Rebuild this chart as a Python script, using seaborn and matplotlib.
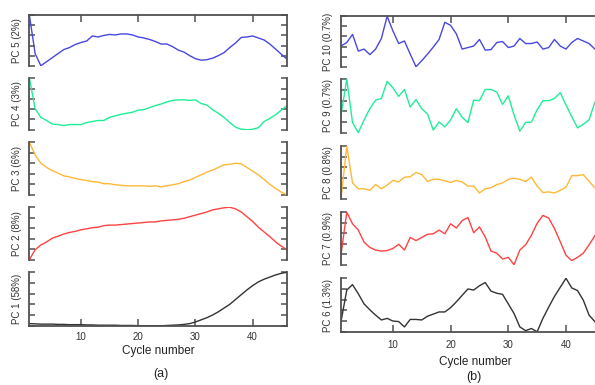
import numpy as np
import matplotlib
matplotlib.use('Agg')
import matplotlib.pyplot as plt
import seaborn as sns

sns.set_style('ticks')
plt.rcParams['font.family'] = ['Liberation Sans', 'DejaVu Sans']

cycles = np.arange(1, 47)

# panel (a) - normalised scores, PC1..PC5
pc1 = [0.04, 0.035, 0.03, 0.03, 0.03, 0.025, 0.025, 0.02, 0.02, 0.02,
       0.015, 0.015, 0.01, 0.01, 0.01, 0.01, 0.005, 0.005, 0.005, 0.0,
       0.0, 0.0, 0.0, 0.0, 0.005, 0.01, 0.015, 0.025, 0.04, 0.07,
       0.11, 0.15, 0.20, 0.26, 0.33, 0.40, 0.49, 0.58, 0.67, 0.75,
       0.82, 0.87, 0.91, 0.95, 0.98, 1.0]
pc2 = [0.0, 0.19, 0.28, 0.34, 0.41, 0.45, 0.49, 0.52, 0.54, 0.57,
       0.59, 0.61, 0.62, 0.65, 0.66, 0.66, 0.67, 0.68, 0.69, 0.70,
       0.71, 0.72, 0.72, 0.74, 0.75, 0.76, 0.77, 0.79, 0.82, 0.85,
       0.88, 0.91, 0.95, 0.97, 0.99, 1.0, 0.97, 0.91, 0.82, 0.73,
       0.62, 0.53, 0.44, 0.34, 0.26, 0.19]
pc3 = [1.0, 0.76, 0.60, 0.52, 0.46, 0.41, 0.36, 0.34, 0.31, 0.29,
       0.27, 0.25, 0.24, 0.21, 0.21, 0.19, 0.18, 0.17, 0.17, 0.17,
       0.17, 0.16, 0.17, 0.15, 0.17, 0.19, 0.21, 0.25, 0.28, 0.33,
       0.38, 0.43, 0.47, 0.52, 0.57, 0.58, 0.60, 0.59, 0.52, 0.45,
       0.38, 0.29, 0.20, 0.12, 0.05, 0.0]
pc4 = [1.0, 0.41, 0.24, 0.18, 0.11, 0.10, 0.08, 0.10, 0.10, 0.10,
       0.14, 0.16, 0.18, 0.18, 0.24, 0.27, 0.30, 0.32, 0.34, 0.38,
       0.39, 0.43, 0.47, 0.50, 0.54, 0.57, 0.58, 0.58, 0.57, 0.58,
       0.51, 0.48, 0.39, 0.32, 0.24, 0.14, 0.05, 0.01, 0.0, 0.01,
       0.04, 0.16, 0.22, 0.29, 0.38, 0.47]
pc5 = [1.0, 0.24, 0.0, 0.08, 0.16, 0.24, 0.32, 0.36, 0.42, 0.46,
       0.49, 0.59, 0.57, 0.60, 0.62, 0.61, 0.63, 0.63, 0.61, 0.57,
       0.55, 0.52, 0.48, 0.43, 0.43, 0.38, 0.31, 0.27, 0.20, 0.14,
       0.11, 0.12, 0.15, 0.20, 0.26, 0.36, 0.45, 0.56, 0.57, 0.59,
       0.55, 0.51, 0.43, 0.33, 0.23, 0.13]

# panel (b) - PC6..PC10
pc6 = [0.19, 0.78, 0.88, 0.71, 0.52, 0.41, 0.31, 0.22, 0.25, 0.20,
       0.19, 0.09, 0.23, 0.23, 0.22, 0.29, 0.33, 0.37, 0.37, 0.45,
       0.56, 0.68, 0.80, 0.78, 0.86, 0.92, 0.76, 0.72, 0.70, 0.52,
       0.34, 0.09, 0.02, 0.06, 0.0, 0.25, 0.46, 0.66, 0.83, 1.0,
       0.82, 0.77, 0.59, 0.31, 0.19, 0.12]
pc7 = [0.19, 1.0, 0.78, 0.66, 0.43, 0.33, 0.28, 0.26, 0.27, 0.31,
       0.39, 0.28, 0.52, 0.46, 0.52, 0.58, 0.59, 0.66, 0.59, 0.78,
       0.70, 0.84, 0.90, 0.61, 0.72, 0.53, 0.26, 0.22, 0.11, 0.14,
       0.0, 0.28, 0.38, 0.56, 0.79, 0.94, 0.89, 0.69, 0.44, 0.18,
       0.08, 0.14, 0.22, 0.38, 0.55, 0.70]
pc8 = [0.0, 1.0, 0.30, 0.19, 0.19, 0.16, 0.27, 0.19, 0.26, 0.35,
       0.32, 0.41, 0.42, 0.50, 0.46, 0.33, 0.37, 0.37, 0.34, 0.31,
       0.35, 0.32, 0.24, 0.24, 0.11, 0.19, 0.21, 0.27, 0.30, 0.37,
       0.39, 0.37, 0.33, 0.41, 0.24, 0.12, 0.13, 0.11, 0.16, 0.22,
       0.44, 0.44, 0.46, 0.33, 0.21, 0.15]
pc9 = [0.33, 1.0, 0.19, 0.0, 0.24, 0.45, 0.61, 0.64, 0.96, 0.84,
       0.68, 0.81, 0.48, 0.62, 0.45, 0.35, 0.05, 0.20, 0.11, 0.24,
       0.45, 0.29, 0.19, 0.61, 0.60, 0.81, 0.81, 0.76, 0.53, 0.69,
       0.33, 0.03, 0.19, 0.20, 0.43, 0.60, 0.60, 0.64, 0.75, 0.52,
       0.30, 0.09, 0.16, 0.24, 0.57, 0.70]
pc10 = [0.41, 0.48, 0.64, 0.31, 0.35, 0.24, 0.35, 0.56, 1.0, 0.71,
        0.46, 0.51, 0.25, 0.0, 0.12, 0.25, 0.39, 0.54, 0.88, 0.82,
        0.65, 0.35, 0.38, 0.41, 0.54, 0.33, 0.34, 0.48, 0.50, 0.38,
        0.41, 0.56, 0.46, 0.46, 0.49, 0.35, 0.38, 0.54, 0.41, 0.35,
        0.48, 0.56, 0.51, 0.46, 0.35, 0.30]

labels_a = ['PC 5 (2%)', 'PC 4 (3%)', 'PC 3 (6%)', 'PC 2 (8%)', 'PC 1 (58%)']
labels_b = ['PC 10 (0.7%)', 'PC 9 (0.7%)', 'PC 8 (0.8%)', 'PC 7 (0.9%)', 'PC 6 (1.3%)']
series_a = [pc5, pc4, pc3, pc2, pc1]
series_b = [pc10, pc9, pc8, pc7, pc6]
colors = ['#4848E0', '#1FEE98', '#FFB836', '#FF4242', '#333333']
xticks = [10, 20, 30, 40]

W, H = 595, 385
fig = plt.figure(figsize=(W / 100, H / 100), dpi=100)

SPINE = '#505050'


def make_panel(series, labels, x0, x1, tops, bottoms, label_x, pad):
    for i, (vals, lab, col) in enumerate(zip(series, labels, colors)):
        t, b = tops[i], bottoms[i]
        ax = fig.add_axes([x0 / W, 1 - b / H, (x1 - x0) / W, (b - t) / H])
        sns.lineplot(x=cycles, y=vals, ax=ax, color=col, linewidth=1.0)
        ax.set_xlim(1, 46)
        ax.set_ylim(-0.005, 1.005)
        ax.set_yticks(np.linspace(0, 1, 6))
        ax.set_xticks(xticks)
        ax.set_xlabel('')
        ax.set_ylabel('')
        for s in ax.spines.values():
            s.set_color(SPINE)
            s.set_linewidth(1.3)
        ax.spines['top'].set_visible(i == 0)
        ax.spines['bottom'].set_visible(i == len(series) - 1)
        ax.tick_params(axis='y', direction='in', left=True, right=True,
                       labelleft=False, length=4.5, width=1.1, color=SPINE)
        ax.tick_params(axis='x', direction='in', top=(i == 0),
                       bottom=(i == len(series) - 1),
                       labelbottom=(i == len(series) - 1),
                       length=5, width=1.1, color=SPINE,
                       labelsize=7, labelcolor='#333333', pad=pad)
        fig.text(label_x / W, 1 - (t + b) / 2 / H, lab, rotation=90,
                 ha='center', va='center', fontsize=7, color='#333333')


make_panel(series_a, labels_a, 29.4, 287,
           [15, 78, 142, 207, 272], [66, 130, 195, 260, 326], 17, 4.5)
make_panel(series_b, labels_b, 341, 600.6,
           [16, 79, 146, 212, 278], [67, 133, 199, 265, 332], 328, 6)

fig.text(158 / W, 1 - 351 / H, 'Cycle number', ha='center', va='center',
         fontsize=8.5, color='#222222')
fig.text(475 / W, 1 - 362 / H, 'Cycle number', ha='center', va='center',
         fontsize=8.5, color='#222222')
fig.text(161 / W, 1 - 374 / H, '(a)', ha='center', va='center',
         fontsize=9, color='#222222')
fig.text(474 / W, 1 - 377 / H, '(b)', ha='center', va='center',
         fontsize=9, color='#222222')

fig.savefig('out.png', dpi=100)
